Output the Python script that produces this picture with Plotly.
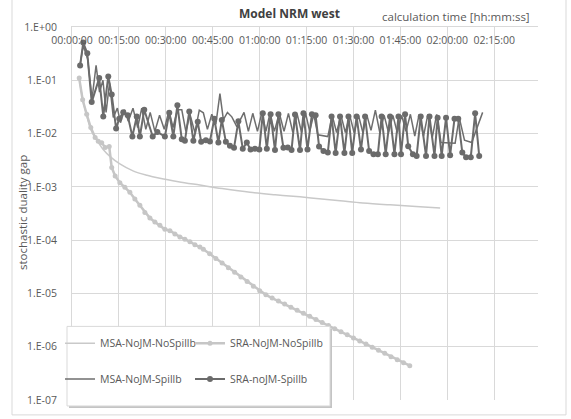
import plotly.graph_objects as go

# ---------------- data (time in minutes, gap values) ----------------
msa_nospill_t = [2.3, 3.4, 4.7, 6.0, 7.4, 8.6, 9.9, 12.2, 15.3, 19.5, 24.0, 28.1, 34.0, 40.9,
                 48.0, 56.9, 65.0, 72.9, 79.0, 85.7, 93.0, 101.7, 110.0, 117.7]
msa_nospill_v = [0.11, 0.045, 0.022, 0.012, 0.0085, 0.0065, 0.0051, 0.0037, 0.0027, 0.0020, 0.00165,
                 0.00145, 0.00125, 0.00108, 0.00093, 0.00079, 0.00071, 0.00065, 0.00060, 0.00055,
                 0.00050, 0.00046, 0.00043, 0.00040]

sra_nospill_t = [2.3, 3.4, 4.7, 6.0, 7.4, 8.4, 9.5, 10.6, 11.9, 12.7, 13.8, 15.3, 16.9, 18.5, 20.1,
                 21.7, 23.3, 24.9, 26.5, 28.1, 29.7, 31.3, 32.9, 34.5, 36.1, 37.7, 39.3, 40.9,
                 42, 44, 46, 48, 50, 52, 54, 56, 58, 60, 62, 64, 66, 68, 70, 72, 74, 76, 78, 80,
                 82, 84, 86, 88, 90, 92, 94, 96, 98, 100, 102, 104, 106, 108]
sra_nospill_v = [0.11, 0.043, 0.023, 0.013, 0.0084, 0.0072, 0.0067, 0.0055, 0.0057, 0.0023, 0.0016,
                 0.0012, 0.00098, 0.00079, 0.00059, 0.00045, 0.00033, 0.00026, 0.00022, 0.00019,
                 0.00016, 0.00015, 0.00013, 0.000115, 0.000104, 0.000093, 0.000082, 0.000074,
                 6.76e-5, 5.53e-5, 4.53e-5, 3.71e-5, 3.03e-5, 2.49e-5, 2.03e-5, 1.67e-5, 1.36e-5,
                 1.12e-5, 9.4e-6, 8.2e-6, 7.2e-6, 6.3e-6, 5.5e-6, 4.84e-6, 4.24e-6, 3.71e-6,
                 3.24e-6, 2.84e-6, 2.49e-6, 2.18e-6, 1.91e-6, 1.67e-6, 1.46e-6, 1.28e-6, 1.12e-6,
                 9.8e-7, 8.6e-7, 7.5e-7, 6.5e-7, 5.7e-7, 5.0e-7, 4.4e-7]

msa_spill_t = [2.6, 3.6, 5.0, 6.4, 7.7, 8.8, 9.9, 10.9, 12.0, 13.2, 14.5, 15.5, 16.8, 18.0, 19.5,
               21.0, 22.3, 23.6, 25.0, 26.5, 28.0, 29.5, 31.0, 32.3, 33.7, 35.1, 36.4, 37.7, 39.3,
               40.7, 42.0, 43.3, 44.7, 46.0, 47.3, 48.4, 49.7, 51.1, 52.7, 53.7, 55.0, 56.4, 57.8,
               59.3, 60.7, 62.0, 63.3, 64.7, 66.3, 67.8, 69.2, 70.6, 72.0, 73.4, 74.7, 76.0, 77.3,
               78.6, 81.8, 83.2, 84.6, 86.0, 87.4, 88.8, 90.2, 91.6, 93.0, 94.3, 95.6, 97.0, 98.4,
               99.8, 101.2, 102.6, 104.0, 105.4, 106.8, 108.2, 109.6, 111.0, 112.4, 113.8, 115.2,
               116.6, 118.0, 122.5, 123.8, 125.5, 127.8, 131.3]
msa_spill_v = [0.2, 0.45, 0.25, 0.045, 0.19, 0.06, 0.1, 0.025, 0.09, 0.02, 0.03, 0.016, 0.028, 0.017,
               0.03, 0.013, 0.03, 0.012, 0.025, 0.011, 0.022, 0.012, 0.027, 0.013, 0.028, 0.028,
               0.011, 0.023, 0.0104, 0.0275, 0.0245, 0.012, 0.023, 0.015, 0.056, 0.0183, 0.025,
               0.0206, 0.0135, 0.0178, 0.025, 0.011, 0.024, 0.011, 0.025, 0.011, 0.024, 0.011,
               0.024, 0.011, 0.024, 0.0105, 0.023, 0.0105, 0.024, 0.011, 0.023, 0.0095, 0.0088,
               0.022, 0.0105, 0.022, 0.0105, 0.022, 0.0105, 0.022, 0.0105, 0.022, 0.0115, 0.0275,
               0.0105, 0.022, 0.0105, 0.022, 0.0105, 0.022, 0.011, 0.023, 0.009, 0.023, 0.009,
               0.023, 0.0085, 0.023, 0.0068, 0.0066, 0.02, 0.0075, 0.0068, 0.025]

sra_spill_t = [2.6, 3.6, 4.9, 6.3, 8.7, 10.0, 11.6, 12.7, 14.1, 15.1, 16.4, 17.8, 19.3, 20.7, 21.7,
               23.1, 25.8, 27.3, 29.7, 31.1, 32.4, 33.7, 35.1, 36.1, 37.5, 38.8, 40.2, 41.3, 42.8,
               44.1, 45.5, 46.8, 47.9, 49.2, 50.5, 51.8, 53.2, 54.6, 55.9, 57.1, 58.5, 59.9, 61.0,
               62.3, 63.5, 64.9, 66.0, 67.6, 69.0, 70.2, 71.3, 72.9, 74.0, 75.3, 76.7, 77.9, 79.0,
               80.4, 81.8, 83.0, 84.3, 85.7, 87.1, 88.4, 89.6, 91.0, 92.4, 93.7, 95.0, 96.4, 97.8,
               99.0, 100.3, 101.7, 103.1, 104.4, 105.2, 106.5, 107.5, 109.0, 110.2, 111.5, 113.2,
               114.3, 115.9, 116.9, 118.2, 119.6, 120.9, 122.3, 123.5, 124.8, 126.0, 127.5, 128.9,
               130.2]
sra_spill_v = [0.19, 0.51, 0.32, 0.039, 0.11, 0.021, 0.118, 0.054, 0.0125, 0.019, 0.025, 0.022,
               0.0088, 0.021, 0.0088, 0.028, 0.0088, 0.0107, 0.0088, 0.0245, 0.0088, 0.034, 0.0078,
               0.0073, 0.026, 0.0073, 0.0166, 0.0070, 0.0075, 0.0071, 0.019, 0.0068, 0.018, 0.007,
               0.0059, 0.0054, 0.017, 0.0052, 0.0068, 0.005, 0.0052, 0.005, 0.024, 0.0052, 0.023,
               0.0049, 0.023, 0.0054, 0.0055, 0.0049, 0.0228, 0.0049, 0.024, 0.005, 0.023, 0.022,
               0.0057, 0.0047, 0.0044, 0.021, 0.0043, 0.021, 0.0043, 0.021, 0.0043, 0.021, 0.005,
               0.021, 0.0047, 0.0041, 0.0041, 0.021, 0.0041, 0.021, 0.0041, 0.021, 0.0041, 0.023,
               0.0058, 0.0041, 0.0038, 0.021, 0.0038, 0.021, 0.0038, 0.0199, 0.0038, 0.0199, 0.0039,
               0.019, 0.019, 0.0044, 0.0036, 0.0036, 0.024, 0.0038]

x_tickvals = [0, 15, 30, 45, 60, 75, 90, 105, 120, 135]
x_ticktext = ["00:00:00", "00:15:00", "00:30:00", "00:45:00", "01:00:00", "01:15:00",
              "01:30:00", "01:45:00", "02:00:00", "02:15:00"]
y_tickvals = [1, 1e-1, 1e-2, 1e-3, 1e-4, 1e-5, 1e-6, 1e-7]
y_ticktext = ["1.E+00", "1.E-01", "1.E-02", "1.E-03", "1.E-04", "1.E-05", "1.E-06", "1.E-07"]

FONT = "Open Sans"
TXT = "#595959"
GRID = "#d9d9d9"

fig = go.Figure()
fig.add_trace(go.Scatter(x=msa_nospill_t, y=msa_nospill_v, mode="lines", name="MSA-NoJM-NoSpillb",
                         line=dict(color="#c9c9c9", width=1.5, shape="spline"), legend="legend"))
fig.add_trace(go.Scatter(x=sra_nospill_t, y=sra_nospill_v, mode="lines+markers", name="SRA-NoJM-NoSpillb",
                         line=dict(color="#c6c6c6", width=2.5), marker=dict(color="#c6c6c6", size=5),
                         legend="legend2"))
fig.add_trace(go.Scatter(x=msa_spill_t, y=msa_spill_v, mode="lines", name="MSA-NoJM-Spillb",
                         line=dict(color="#6e6e6e", width=1.5), legend="legend3"))
fig.add_trace(go.Scatter(x=sra_spill_t, y=sra_spill_v, mode="lines+markers", name="SRA-noJM-Spillb",
                         line=dict(color="#6b6b6b", width=2), marker=dict(color="#6b6b6b", size=6),
                         legend="legend4"))

L, R, T, B = 72, 33, 27, 17
PW, PH = 571 - L - R, 419 - T - B


def px(xp):
    return (xp - L) / PW


def py(yp):
    return (419 - B - yp) / PH


legend_common = dict(orientation="h", xanchor="left", yanchor="middle", bgcolor="rgba(0,0,0,0)",
                     font=dict(family=FONT, size=10.5, color=TXT), itemwidth=30)

fig.update_layout(
    width=571, height=419,
    margin=dict(l=L, r=R, t=T, b=B),
    paper_bgcolor="white", plot_bgcolor="white",
    showlegend=True,
    legend=dict(x=px(60), y=py(345), **legend_common),
    legend2=dict(x=px(190), y=py(345), **legend_common),
    legend3=dict(x=px(60), y=py(381), **legend_common),
    legend4=dict(x=px(190), y=py(381), **legend_common),
    xaxis=dict(range=[0, 149], side="top", tickvals=x_tickvals, ticktext=x_ticktext,
               ticklabelposition="inside", ticklabeloverflow="allow", ticklabelstandoff=9,
               showgrid=True, gridcolor=GRID, gridwidth=1, showline=True, linecolor=GRID,
               ticks="", zeroline=False, tickfont=dict(family=FONT, size=10.5, color=TXT)),
    yaxis=dict(type="log", range=[-7, 0], tickvals=y_tickvals, ticktext=y_ticktext,
               showgrid=True, gridcolor=GRID, gridwidth=1, showline=True, linecolor=GRID,
               ticks="", ticklabelstandoff=12, tickfont=dict(family=FONT, size=10.5, color=TXT)),
    shapes=[
        dict(type="rect", xref="paper", yref="paper", x0=px(12), x1=px(566), y0=py(417), y1=py(-2),
             line=dict(color=GRID, width=1), fillcolor="rgba(0,0,0,0)", layer="below"),
        dict(type="rect", xref="paper", yref="paper", x0=px(69), x1=px(332), y0=py(410), y1=py(330),
             line=dict(width=0), fillcolor="#c4c4c4", layer="above"),
        dict(type="rect", xref="paper", yref="paper", x0=px(67), x1=px(330), y0=py(408), y1=py(328),
             line=dict(color=GRID, width=1), fillcolor="white", layer="above"),
    ],
    annotations=[
        dict(text="<b>Model NRM west</b>", xref="paper", yref="paper", x=px(289), y=py(13),
             showarrow=False, xanchor="center", yanchor="middle",
             font=dict(family=FONT, size=12, color="#404040")),
        dict(text="calculation time [hh:mm:ss]", xref="paper", yref="paper", x=px(532), y=py(16),
             showarrow=False, xanchor="right", yanchor="middle",
             font=dict(family=FONT, size=11.5, color=TXT)),
        dict(text="stochastic duality gap", xref="paper", yref="paper", x=px(22), y=py(214),
             showarrow=False, xanchor="center", yanchor="middle", textangle=-90,
             font=dict(family=FONT, size=11.5, color=TXT)),
    ],
)

fig.write_html("out.html")
